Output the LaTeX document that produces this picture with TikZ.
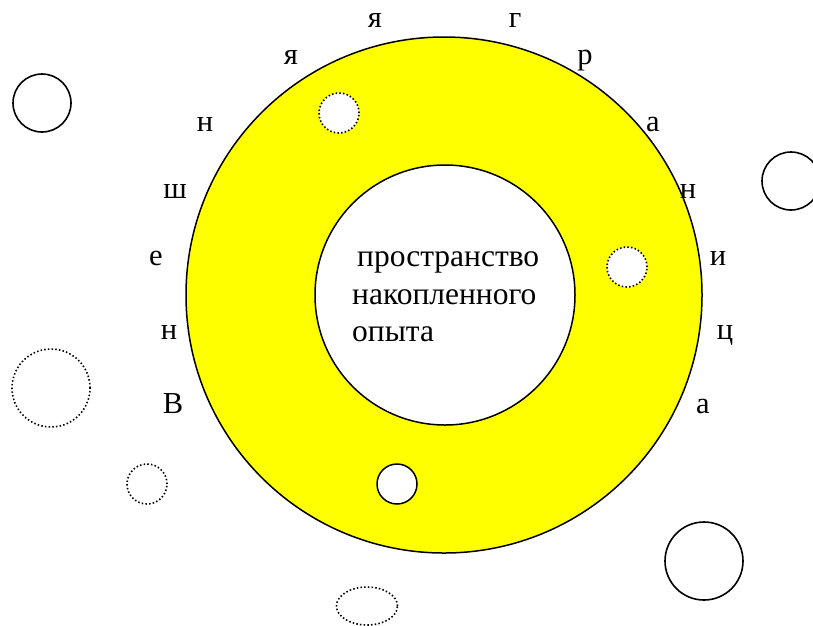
\documentclass[tikz,border=0pt]{standalone}
\usepackage{fontspec}
\setmainfont{Liberation Serif}
\usetikzlibrary{shapes.geometric}
\definecolor{ringyellow}{RGB}{255,255,0}
\tikzset{
  ring/.style={draw, circle, line width=1.5pt, fill=ringyellow, inner sep=0pt},
  hole/.style={draw, circle, line width=1.5pt, fill=white, inner sep=0pt},
  bubble/.style={draw, circle, line width=1.6pt, inner sep=0pt},
  dotbubble/.style={bubble, dash pattern=on 1.5pt off 2.2pt},
  letter/.style={anchor=base, inner sep=0pt, font=\fontsize{30.5}{36}\selectfont},
  caption/.style={anchor=west, align=left, inner sep=0pt, font=\fontsize{31.5}{37.5}\selectfont},
}
\begin{document}
\begin{tikzpicture}[x=1pt, y=-1pt]
\useasboundingbox (0,0) rectangle (813,625);

% ring with the space inside
\node[ring, minimum size=516pt] (outer) at (444,295) {};
\node[hole, minimum size=260pt] (inner) at (445,295) {};
\node[caption] (space) at (352,297) {\hspace{5pt}пространство\\накопленного\\опыта};

% small circles in the ring
\node[hole, dotbubble, minimum size=40pt] (h1) at (339,113) {};
\node[hole, dotbubble, minimum size=40pt] (h2) at (627,267) {};
\node[hole, minimum size=40pt] (h3) at (397,484) {};

% circles outside
\node[bubble, minimum size=58pt] (b1) at (42,103) {};
\node[bubble, minimum size=58pt] (b2) at (791,181) {};
\node[dotbubble, minimum size=78pt] (b3) at (51,388) {};
\node[dotbubble, minimum size=40pt] (b4) at (147,484) {};
\node[bubble, minimum size=78pt] (b5) at (704,561) {};
\node[dotbubble, ellipse, minimum width=61pt, minimum height=38pt] (b6) at (367,606) {};

% "Внешняя граница" round the ring
\node[letter] (l1) at (173,413) {В};
\node[letter] (l2) at (169,339) {н};
\node[letter] (l3) at (156,265) {е};
\node[letter] (l4) at (175,198) {ш};
\node[letter] (l5) at (205,131) {н};
\node[letter] (l6) at (291,64) {я};
\node[letter] (l7) at (375,27) {я};
\node[letter] (r1) at (515,27) {г};
\node[letter] (r2) at (585,64) {р};
\node[letter] (r3) at (653,131) {а};
\node[letter] (r4) at (688,198) {н};
\node[letter] (r5) at (718,265) {и};
\node[letter] (r6) at (725,339) {ц};
\node[letter] (r7) at (703,413) {а};

\end{tikzpicture}
\end{document}
